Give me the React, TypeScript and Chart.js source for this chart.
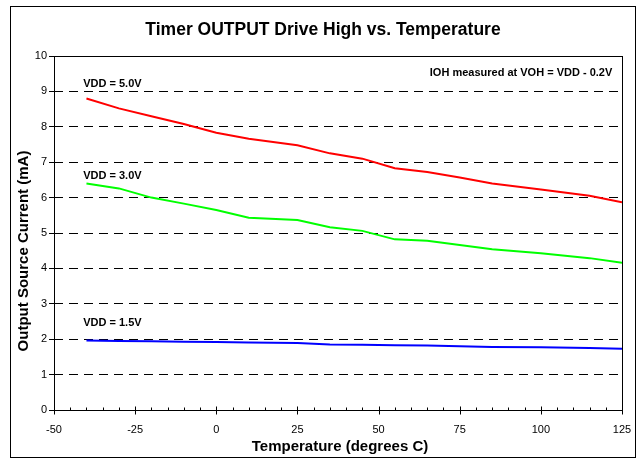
import React, { useEffect, useRef } from 'react';
import { Chart, registerables } from 'chart.js';

Chart.register(...registerables);

const FONT = '"Liberation Sans", Arial, Helvetica, sans-serif';

const chartTitle = 'Timer OUTPUT Drive High vs. Temperature';
const xAxisTitle = 'Temperature (degrees C)';
const yAxisTitle = 'Output Source Current (mA)';

const temperatures = [-40, -30, -20, -10, 0, 10, 25, 35, 45, 55, 65, 75, 85, 100, 115, 125];
const vdd50 = [8.8, 8.52, 8.3, 8.08, 7.83, 7.66, 7.48, 7.25, 7.1, 6.83, 6.72, 6.57, 6.4, 6.23, 6.05, 5.87];
const vdd30 = [6.4, 6.26, 6.0, 5.83, 5.65, 5.43, 5.37, 5.16, 5.06, 4.82, 4.78, 4.66, 4.54, 4.43, 4.29, 4.16];
const vdd15 = [1.96, 1.95, 1.94, 1.93, 1.92, 1.91, 1.89, 1.85, 1.84, 1.83, 1.82, 1.8, 1.78, 1.77, 1.75, 1.73];

const seriesNames = ['VDD = 5.0V', 'VDD = 3.0V', 'VDD = 1.5V'];
const seriesColors = ['#ff0000', '#00ff00', '#0000ff'];

const xMin = -50;
const xMax = 125;
const xStep = 25;
const xMinorStep = 5;
const yMin = 0;
const yMax = 10;
const yStep = 1;

// annotation texts anchored in data coordinates
const noteTexts = ['VDD = 5.0V', 'VDD = 3.0V', 'VDD = 1.5V', 'IOH measured at VOH = VDD - 0.2V'];
const noteX = [-41, -41, -41, 122];
const noteY = [9.22, 6.6, 2.45, 9.52];
const noteAlign = ['left', 'left', 'left', 'right'];

const toPoints = (vals: number[]) => temperatures.map((t, i) => ({ x: t, y: vals[i] }));

const decorPlugin = {
  id: 'decor',
  beforeDraw(chart: any) {
    const { ctx, width, height } = chart;
    ctx.save();
    ctx.fillStyle = '#ffffff';
    ctx.fillRect(0, 0, width, height);
    ctx.restore();
  },
  afterDraw(chart: any) {
    const { ctx, chartArea: a, scales } = chart;
    const x = scales.x;
    const y = scales.y;
    ctx.save();
    ctx.strokeStyle = '#000';
    ctx.lineWidth = 1;
    ctx.setLineDash([]);
    // outer frame
    ctx.strokeRect(10.5, 6.5, 625, 451);
    // plot frame
    const l = Math.round(a.left) + 0.5;
    const r = Math.round(a.right) + 0.5;
    const t = Math.round(a.top) + 0.5;
    const b = Math.round(a.bottom) + 0.5;
    ctx.strokeRect(l, t, r - l, b - t);
    // x tick marks
    ctx.beginPath();
    for (let v = xMin; v <= xMax; v += xMinorStep) {
      const px = Math.round(x.getPixelForValue(v)) + 0.5;
      if ((v - xMin) % xStep === 0) {
        ctx.moveTo(px, b - 4);
        ctx.lineTo(px, b + 4);
      } else {
        ctx.moveTo(px, b - 3);
        ctx.lineTo(px, b);
      }
    }
    ctx.stroke();
    // chart title
    ctx.fillStyle = '#000';
    ctx.textAlign = 'center';
    ctx.textBaseline = 'middle';
    ctx.font = `bold 17.5px ${FONT}`;
    ctx.fillText(chartTitle, 323, 30);
    // x axis title
    ctx.font = `bold 15px ${FONT}`;
    ctx.fillText(xAxisTitle, 340, 447);
    // y axis title
    ctx.save();
    ctx.translate(24, 251);
    ctx.rotate(-Math.PI / 2);
    ctx.font = `bold 15px ${FONT}`;
    ctx.fillText(yAxisTitle, 0, 0);
    ctx.restore();
    // annotations
    ctx.font = `bold 11px ${FONT}`;
    for (let i = 0; i < noteTexts.length; i++) {
      ctx.textAlign = noteAlign[i];
      ctx.fillText(noteTexts[i], x.getPixelForValue(noteX[i]), y.getPixelForValue(noteY[i]));
    }
    ctx.restore();
  },
};

export default function App() {
  const canvasRef = useRef<HTMLCanvasElement | null>(null);

  useEffect(() => {
    const canvas = canvasRef.current;
    if (!canvas) return;
    const chart = new Chart(canvas, {
      type: 'line',
      data: {
        datasets: [vdd50, vdd30, vdd15].map((vals, i) => ({
          label: seriesNames[i],
          data: toPoints(vals),
          borderColor: seriesColors[i],
          backgroundColor: seriesColors[i],
          borderWidth: 2,
          pointRadius: 0,
          tension: 0,
          fill: false,
        })),
      },
      options: {
        responsive: false,
        animation: false,
        events: [],
        layout: { padding: { left: 10, right: 17, top: 56, bottom: 0 } },
        plugins: {
          legend: { display: false },
          tooltip: { enabled: false },
          title: { display: false },
        },
        scales: {
          x: {
            type: 'linear',
            min: xMin,
            max: xMax,
            grid: { display: false },
            border: { display: false },
            ticks: {
              stepSize: xStep,
              color: '#000',
              padding: 5,
              maxRotation: 0,
              font: { family: FONT, size: 11 },
            },
            afterFit: (s: any) => {
              s.height = 50;
            },
          },
          y: {
            type: 'linear',
            min: yMin,
            max: yMax,
            grid: {
              color: (c: any) => (c.tick && (c.tick.value === yMin || c.tick.value === yMax) ? 'rgba(0,0,0,0)' : '#000'),
              lineWidth: 1,
              tickLength: 5,
              tickColor: '#000',
              drawTicks: true,
            },
            border: { display: false, dash: [9, 6] },
            ticks: {
              stepSize: yStep,
              color: '#000',
              padding: 2,
              font: { family: FONT, size: 11 },
            },
            afterFit: (s: any) => {
              s.width = 44;
            },
          },
        },
      },
      plugins: [decorPlugin],
    } as any);
    return () => chart.destroy();
  }, []);

  return (
    <div style={{ position: 'absolute', left: 0, top: 0, width: 639, height: 460 }}>
      <canvas ref={canvasRef} width={639} height={460} style={{ display: 'block', width: 639, height: 460 }} />
    </div>
  );
}
